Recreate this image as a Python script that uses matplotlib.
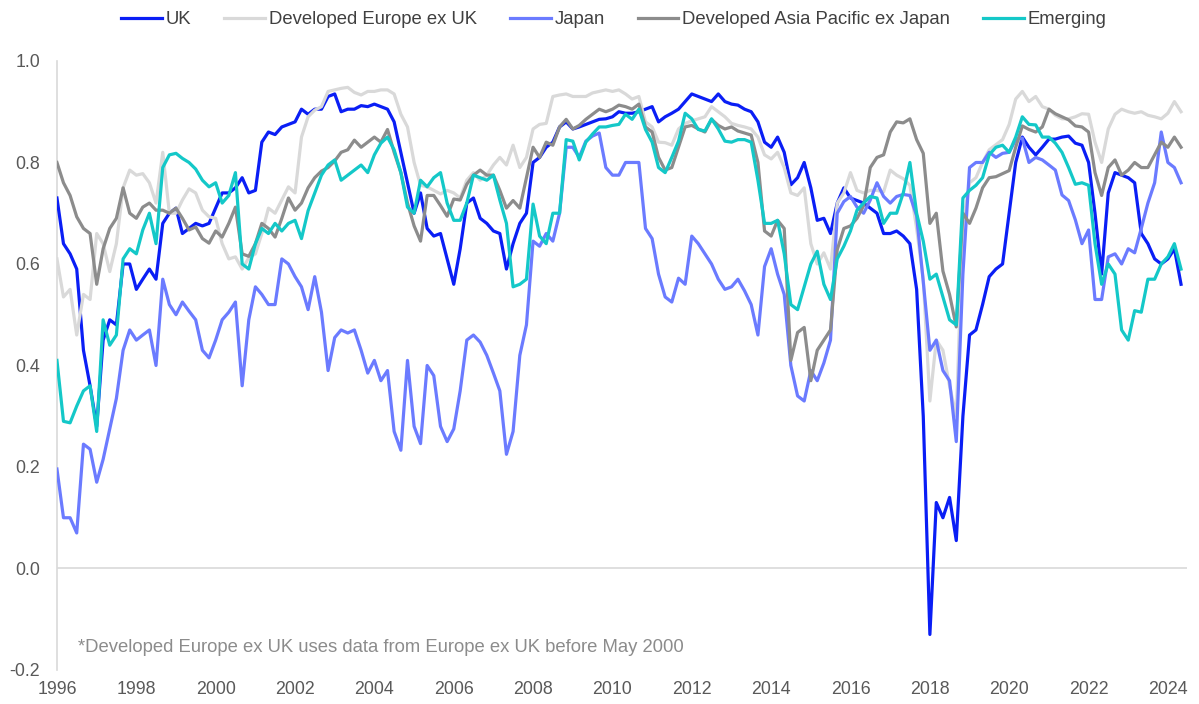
import matplotlib
matplotlib.use("Agg")
import matplotlib.pyplot as plt
import matplotlib.dates as mdates
import pandas as pd

plt.rcParams["font.family"] = ["Liberation Sans", "DejaVu Sans"]
plt.rcParams["axes.unicode_minus"] = False

# rolling correlation, sampled every two months from Jan 1996
dates = pd.date_range("1996-01-01", periods=171, freq="2MS")

uk = [
    0.73, 0.64, 0.62, 0.59, 0.43, 0.36,
    0.28, 0.45, 0.49, 0.48, 0.60, 0.60,
    0.55, 0.57, 0.59, 0.57, 0.68, 0.70,
    0.71, 0.66, 0.67, 0.68, 0.675, 0.68,
    0.71, 0.74, 0.74, 0.75, 0.77, 0.74,
    0.745, 0.84, 0.86, 0.855, 0.87, 0.875,
    0.88, 0.905, 0.895, 0.905, 0.905, 0.93,
    0.935, 0.90, 0.905, 0.905, 0.912, 0.91,
    0.915, 0.91, 0.905, 0.88, 0.82, 0.76,
    0.70, 0.74, 0.67, 0.655, 0.66, 0.61,
    0.56, 0.63, 0.72, 0.73, 0.69, 0.68,
    0.665, 0.66, 0.59, 0.64, 0.68, 0.70,
    0.80, 0.81, 0.83, 0.84, 0.87, 0.88,
    0.866, 0.87, 0.875, 0.88, 0.885, 0.886,
    0.89, 0.90, 0.897, 0.897, 0.90, 0.905,
    0.91, 0.88, 0.89, 0.897, 0.905, 0.92,
    0.935, 0.93, 0.925, 0.92, 0.935, 0.92,
    0.915, 0.913, 0.905, 0.90, 0.88, 0.84,
    0.83, 0.85, 0.82, 0.756, 0.77, 0.80,
    0.75, 0.686, 0.69, 0.66, 0.72, 0.75,
    0.73, 0.725, 0.72, 0.71, 0.70, 0.66,
    0.66, 0.665, 0.655, 0.64, 0.55, 0.30,
    -0.13, 0.13, 0.10, 0.14, 0.055, 0.30,
    0.46, 0.47, 0.52, 0.575, 0.59, 0.60,
    0.70, 0.80, 0.85, 0.83, 0.815, 0.83,
    0.846, 0.846, 0.85, 0.852, 0.838, 0.834,
    0.80, 0.70, 0.58, 0.74, 0.78, 0.775,
    0.77, 0.76, 0.66, 0.64, 0.61, 0.60,
    0.61, 0.63, 0.56,
]

europe_ex_uk = [
    0.61, 0.535, 0.55, 0.46, 0.54, 0.53,
    0.66, 0.64, 0.585, 0.64, 0.75, 0.785,
    0.775, 0.778, 0.76, 0.72, 0.82, 0.70,
    0.70, 0.726, 0.748, 0.74, 0.706, 0.693,
    0.69, 0.64, 0.61, 0.614, 0.59, 0.612,
    0.62, 0.66, 0.71, 0.70, 0.726, 0.752,
    0.74, 0.85, 0.89, 0.903, 0.91, 0.94,
    0.943, 0.946, 0.948, 0.938, 0.933, 0.94,
    0.94, 0.943, 0.943, 0.935, 0.895, 0.87,
    0.80, 0.755, 0.752, 0.745, 0.738, 0.745,
    0.74, 0.73, 0.765, 0.78, 0.765, 0.775,
    0.795, 0.81, 0.795, 0.834, 0.79, 0.81,
    0.866, 0.875, 0.877, 0.93, 0.933, 0.935,
    0.93, 0.93, 0.93, 0.937, 0.94, 0.943,
    0.94, 0.943, 0.935, 0.925, 0.93, 0.88,
    0.87, 0.84, 0.839, 0.834, 0.866, 0.877,
    0.882, 0.886, 0.89, 0.91, 0.90, 0.89,
    0.877, 0.873, 0.87, 0.866, 0.85, 0.815,
    0.807, 0.82, 0.79, 0.74, 0.735, 0.75,
    0.64, 0.60, 0.622, 0.59, 0.72, 0.74,
    0.78, 0.745, 0.74, 0.745, 0.745, 0.742,
    0.785, 0.775, 0.768, 0.755, 0.67, 0.57,
    0.33, 0.45, 0.43, 0.36, 0.30, 0.68,
    0.76, 0.77, 0.80, 0.825, 0.835, 0.845,
    0.875, 0.925, 0.94, 0.92, 0.93, 0.91,
    0.905, 0.893, 0.886, 0.886, 0.89, 0.896,
    0.895, 0.84, 0.80, 0.866, 0.895, 0.905,
    0.90, 0.897, 0.90, 0.893, 0.89, 0.886,
    0.897, 0.92, 0.90,
]

japan = [
    0.196, 0.10, 0.10, 0.07, 0.245, 0.235,
    0.17, 0.215, 0.275, 0.335, 0.43, 0.47,
    0.45, 0.46, 0.47, 0.40, 0.57, 0.52,
    0.50, 0.525, 0.507, 0.49, 0.43, 0.415,
    0.45, 0.49, 0.505, 0.525, 0.36, 0.49,
    0.555, 0.54, 0.52, 0.52, 0.61, 0.60,
    0.575, 0.555, 0.51, 0.575, 0.505, 0.39,
    0.455, 0.47, 0.464, 0.47, 0.43, 0.385,
    0.41, 0.37, 0.39, 0.27, 0.233, 0.41,
    0.28, 0.246, 0.40, 0.38, 0.28, 0.25,
    0.275, 0.35, 0.45, 0.46, 0.446, 0.42,
    0.385, 0.35, 0.225, 0.27, 0.42, 0.48,
    0.645, 0.635, 0.66, 0.645, 0.70, 0.83,
    0.83, 0.81, 0.842, 0.852, 0.858, 0.79,
    0.775, 0.775, 0.80, 0.80, 0.80, 0.67,
    0.65, 0.58, 0.535, 0.525, 0.572, 0.56,
    0.655, 0.64, 0.62, 0.60, 0.57, 0.55,
    0.555, 0.57, 0.547, 0.52, 0.46, 0.595,
    0.63, 0.58, 0.54, 0.40, 0.34, 0.33,
    0.39, 0.37, 0.405, 0.45, 0.70, 0.723,
    0.733, 0.712, 0.70, 0.726, 0.76, 0.733,
    0.72, 0.733, 0.737, 0.735, 0.695, 0.565,
    0.43, 0.45, 0.39, 0.37, 0.25, 0.58,
    0.79, 0.80, 0.80, 0.82, 0.81, 0.818,
    0.82, 0.845, 0.848, 0.80, 0.81, 0.805,
    0.795, 0.785, 0.736, 0.725, 0.687, 0.64,
    0.667, 0.53, 0.53, 0.614, 0.62, 0.60,
    0.63, 0.622, 0.67, 0.72, 0.76, 0.86,
    0.80, 0.79, 0.76,
]

asia_pac_ex_japan = [
    0.80, 0.76, 0.735, 0.693, 0.67, 0.66,
    0.56, 0.63, 0.67, 0.69, 0.75, 0.70,
    0.69, 0.712, 0.72, 0.706, 0.706, 0.70,
    0.71, 0.69, 0.667, 0.673, 0.65, 0.641,
    0.665, 0.653, 0.68, 0.712, 0.62, 0.615,
    0.64, 0.68, 0.67, 0.653, 0.69, 0.73,
    0.706, 0.72, 0.75, 0.77, 0.783, 0.79,
    0.803, 0.82, 0.825, 0.844, 0.83, 0.84,
    0.85, 0.84, 0.865, 0.82, 0.78, 0.72,
    0.675, 0.645, 0.735, 0.735, 0.715, 0.694,
    0.728, 0.726, 0.757, 0.775, 0.785, 0.775,
    0.775, 0.745, 0.71, 0.725, 0.71, 0.77,
    0.83, 0.81, 0.84, 0.834, 0.87, 0.885,
    0.866, 0.873, 0.885, 0.895, 0.905, 0.90,
    0.905, 0.913, 0.91, 0.905, 0.915, 0.87,
    0.86, 0.81, 0.785, 0.79, 0.83, 0.87,
    0.873, 0.866, 0.86, 0.885, 0.873, 0.866,
    0.87, 0.862, 0.858, 0.854, 0.80, 0.665,
    0.655, 0.686, 0.67, 0.41, 0.465, 0.475,
    0.37, 0.43, 0.45, 0.47, 0.628, 0.67,
    0.675, 0.69, 0.715, 0.79, 0.81, 0.815,
    0.86, 0.88, 0.878, 0.886, 0.845, 0.818,
    0.68, 0.70, 0.586, 0.54, 0.476, 0.70,
    0.68, 0.71, 0.75, 0.77, 0.772, 0.778,
    0.784, 0.83, 0.872, 0.865, 0.86, 0.87,
    0.905, 0.896, 0.89, 0.884, 0.872, 0.87,
    0.86, 0.78, 0.735, 0.79, 0.805, 0.775,
    0.785, 0.80, 0.79, 0.79, 0.815, 0.84,
    0.83, 0.85, 0.83,
]

emerging = [
    0.41, 0.29, 0.287, 0.32, 0.35, 0.36,
    0.27, 0.49, 0.44, 0.46, 0.61, 0.63,
    0.62, 0.667, 0.70, 0.64, 0.79, 0.815,
    0.818, 0.808, 0.80, 0.787, 0.765, 0.752,
    0.76, 0.72, 0.735, 0.78, 0.60, 0.59,
    0.64, 0.67, 0.66, 0.68, 0.665, 0.68,
    0.686, 0.65, 0.705, 0.74, 0.775, 0.795,
    0.805, 0.765, 0.775, 0.785, 0.795, 0.78,
    0.815, 0.838, 0.85, 0.825, 0.78, 0.712,
    0.70, 0.765, 0.752, 0.77, 0.78, 0.72,
    0.686, 0.686, 0.72, 0.775, 0.77, 0.765,
    0.775, 0.726, 0.68, 0.555, 0.56, 0.57,
    0.718, 0.655, 0.64, 0.70, 0.70, 0.845,
    0.842, 0.805, 0.84, 0.856, 0.87, 0.87,
    0.873, 0.875, 0.895, 0.885, 0.905, 0.865,
    0.84, 0.79, 0.78, 0.81, 0.842, 0.897,
    0.886, 0.865, 0.862, 0.886, 0.866, 0.842,
    0.84, 0.845, 0.845, 0.84, 0.765, 0.68,
    0.68, 0.686, 0.62, 0.52, 0.51, 0.555,
    0.60, 0.625, 0.56, 0.53, 0.61, 0.635,
    0.665, 0.706, 0.72, 0.733, 0.73, 0.68,
    0.70, 0.70, 0.74, 0.80, 0.70, 0.645,
    0.57, 0.58, 0.535, 0.49, 0.48, 0.73,
    0.745, 0.755, 0.77, 0.815, 0.83, 0.834,
    0.82, 0.85, 0.89, 0.875, 0.874, 0.85,
    0.85, 0.838, 0.82, 0.79, 0.757, 0.76,
    0.755, 0.64, 0.56, 0.60, 0.58, 0.47,
    0.45, 0.508, 0.505, 0.57, 0.57, 0.60,
    0.614, 0.64, 0.59,
]

labels = ["UK", "Developed Europe ex UK", "Japan",
          "Developed Asia Pacific ex Japan", "Emerging"]
series = [uk, europe_ex_uk, japan, asia_pac_ex_japan, emerging]
colors = ["#0A1EF5", "#D9D9D9", "#6B7BFF", "#8C8C8C", "#14C8C8"]

fig = plt.figure(figsize=(11.99, 7.04), dpi=100)
ax = fig.add_axes([0.0475, 0.0483, 0.9425, 0.8651])

lines = []
for vals, lab, col in zip(series, labels, colors):
    ln, = ax.plot(dates, vals, color=col, linewidth=2.3, label=lab,
                  solid_joinstyle="round", zorder=3)
    lines.append(ln)

ax.axhline(0, color="#D9D9D9", linewidth=1.2, zorder=1)

ax.set_ylim(-0.2, 1.0)
ax.set_yticks([-0.2, 0.0, 0.2, 0.4, 0.6, 0.8, 1.0])
ax.set_yticklabels([f"{v:.1f}" for v in [-0.2, 0.0, 0.2, 0.4, 0.6, 0.8, 1.0]])
ax.set_xlim(pd.Timestamp("1996-01-01"), pd.Timestamp("2024-06-25"))
ax.xaxis.set_major_locator(mdates.YearLocator(2))
ax.xaxis.set_major_formatter(mdates.DateFormatter("%Y"))

for side in ["top", "right", "bottom"]:
    ax.spines[side].set_visible(False)
ax.spines["left"].set_color("#D9D9D9")
ax.spines["left"].set_linewidth(1.2)
ax.tick_params(axis="both", length=0, labelsize=12.8, labelcolor="#595959")
ax.tick_params(axis="y", pad=12)
ax.tick_params(axis="x", pad=8)

leg = fig.legend(lines, labels, loc="upper center", bbox_to_anchor=(0.512, 1.008),
                 ncol=5, frameon=False, fontsize=13.3, handlelength=2.2,
                 handletextpad=0.2, columnspacing=1.8)
for txt in leg.get_texts():
    txt.set_color("#404040")

fig.text(78 / 1199, 1 - 648 / 704,
         "*Developed Europe ex UK uses data from Europe ex UK before May 2000",
         fontsize=13.3, color="#8C8C8C", va="center", ha="left")

fig.savefig("out.png", dpi=100)
